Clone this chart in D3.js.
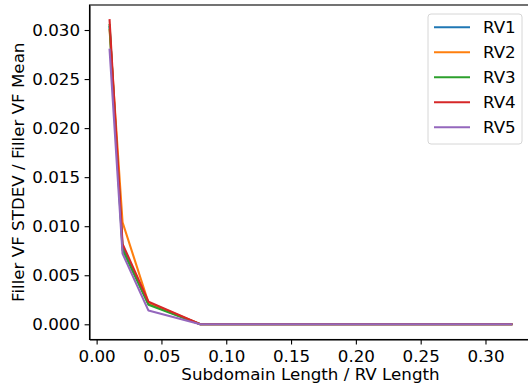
<!DOCTYPE html>
<html>
<head>
<meta charset="utf-8">
<script src="https://cdn.jsdelivr.net/npm/d3@7"></script>
<style>
    body { margin: 0; background: #fff; }
    svg { display: block; font-family: "DejaVu Sans", sans-serif; }
    .axis path, .axis line { stroke: #000; stroke-width: 1.1; }
    .axis text { font-size: 16.7px; fill: #000; font-family: "DejaVu Sans", sans-serif; }
</style>
</head>
<body>
<div id="chart"></div>
<script>
// subdomain length / RV length
var ratios = [0.01, 0.02, 0.04, 0.08, 0.16, 0.32];

// filler VF stdev / mean, one array per RV
var rv1 = [0.0303, 0.0079, 0.0021, 0, 0, 0];
var rv2 = [0.0300, 0.0104, 0.0022, 0, 0, 0];
var rv3 = [0.0305, 0.0076, 0.0020, 0, 0, 0];
var rv4 = [0.0310, 0.0082, 0.0023, 0, 0, 0];
var rv5 = [0.0280, 0.0072, 0.0014, 0, 0, 0];

var seriesNames = ["RV1", "RV2", "RV3", "RV4", "RV5"];
var seriesColors = ["#1f77b4", "#ff7f0e", "#2ca02c", "#d62728", "#9467bd"];

var xTicks = [0, 0.05, 0.10, 0.15, 0.20, 0.25, 0.30];
var yTicks = [0, 0.005, 0.010, 0.015, 0.020, 0.025, 0.030];

(function() {

    var w = 528, h = 390;
    var axLeft = 89.5, axRight = 531.5, axTop = 5, axBottom = 339.5;

    var allSeries = [rv1, rv2, rv3, rv4, rv5];
    var dataset = allSeries.map(function(vals, i) {
        return {
            name: seriesNames[i],
            color: seriesColors[i],
            points: ratios.map(function(x, j) { return { x: x, y: vals[j] }; })
        };
    });

    // matplotlib style 5% margins
    function padded(ext) {
        var d = (ext[1] - ext[0]) * 0.05;
        return [ext[0] - d, ext[1] + d];
    }

    var allY = [].concat.apply([], allSeries);

    var xScale = d3.scaleLinear()
        .domain(padded(d3.extent(ratios)))
        .range([axLeft, axRight]);

    var yScale = d3.scaleLinear()
        .domain(padded(d3.extent(allY)))
        .range([axBottom, axTop]);

    var svg = d3.select("#chart").append("svg")
        .attr("width", w)
        .attr("height", h);

    // lines
    var line = d3.line()
        .x(function(d) { return xScale(d.x); })
        .y(function(d) { return yScale(d.y); });

    svg.append("g").selectAll("path")
        .data(dataset)
        .enter().append("path")
        .attr("d", function(d) { return line(d.points); })
        .attr("fill", "none")
        .attr("stroke", function(d) { return d.color; })
        .attr("stroke-width", 2.1)
        .attr("stroke-linejoin", "round")
        .attr("stroke-linecap", "square");

    // axes
    svg.append("g")
        .attr("class", "axis")
        .attr("transform", "translate(0," + axBottom + ")")
        .call(d3.axisBottom(xScale).tickValues(xTicks).tickFormat(d3.format(".2f"))
            .tickSize(4.9).tickPadding(4.5).tickSizeOuter(0))
        .selectAll("text").attr("dy", "0.78em");

    svg.append("g")
        .attr("class", "axis")
        .attr("transform", "translate(" + axLeft + ",0)")
        .call(d3.axisLeft(yScale).tickValues(yTicks).tickFormat(d3.format(".3f"))
            .tickSize(4.9).tickPadding(4.5).tickSizeOuter(0));

    // frame (top and right spines)
    svg.append("rect")
        .attr("x", axLeft)
        .attr("y", axTop)
        .attr("width", axRight - axLeft)
        .attr("height", axBottom - axTop)
        .style("fill", "none")
        .style("stroke", "#000")
        .style("stroke-width", 1.1);

    // axis labels
    svg.append("text")
        .attr("x", (axLeft + axRight) / 2)
        .attr("y", 380)
        .attr("text-anchor", "middle")
        .style("font-size", "16.7px")
        .text("Subdomain Length / RV Length");

    svg.append("text")
        .attr("transform", "translate(24," + ((axTop + axBottom) / 2) + ") rotate(-90)")
        .attr("text-anchor", "middle")
        .style("font-size", "16.7px")
        .text("Filler VF STDEV / Filler VF Mean");

    // legend
    var legend = svg.append("g").attr("transform", "translate(428,14)");

    legend.append("rect")
        .attr("width", 94)
        .attr("height", 130)
        .attr("rx", 3)
        .style("fill", "#fff")
        .style("fill-opacity", 0.8)
        .style("stroke", "#d6d6d6")
        .style("stroke-width", 1);

    var item = legend.selectAll(".item")
        .data(dataset)
        .enter().append("g")
        .attr("class", "item")
        .attr("transform", function(d, i) { return "translate(0," + (13.3 + i * 25) + ")"; });

    item.append("line")
        .attr("x1", 6)
        .attr("x2", 42)
        .attr("stroke", function(d) { return d.color; })
        .attr("stroke-width", 2.1);

    item.append("text")
        .attr("x", 55)
        .attr("dy", "0.36em")
        .style("font-size", "16.7px")
        .text(function(d) { return d.name; });

})();
</script>
</body>
</html>
